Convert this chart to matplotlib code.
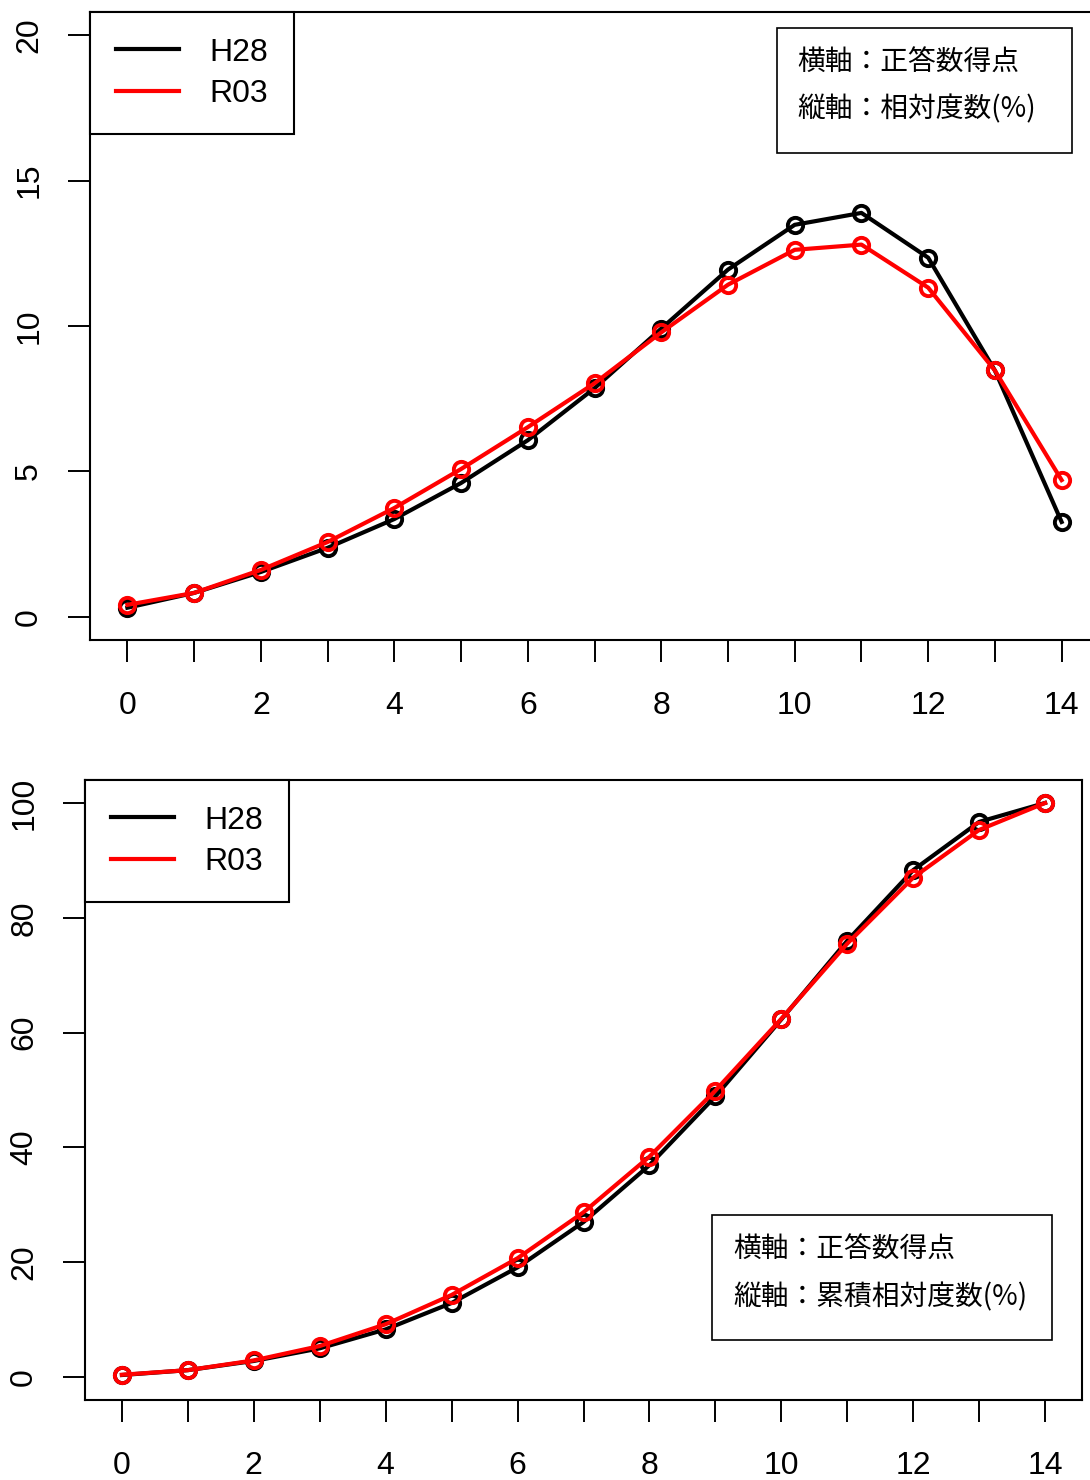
import numpy as np
import matplotlib
matplotlib.use("Agg")
import matplotlib.pyplot as plt
from matplotlib.patches import Rectangle

plt.rcParams['font.family'] = ['Liberation Sans', 'DejaVu Sans']

score = list(range(15))
# 相対度数(%)
h28_rel = [0.31, 0.82, 1.54, 2.37, 3.36, 4.60, 6.07, 7.86, 9.91, 11.94,
           13.48, 13.89, 12.35, 8.47, 3.26]
r03_rel = [0.41, 0.82, 1.61, 2.57, 3.74, 5.08, 6.52, 8.03, 9.78, 11.42,
           12.62, 12.80, 11.32, 8.47, 4.70]
# 累積相対度数(%)
h28_cum = [0.35, 1.2, 2.8, 5.0, 8.3, 12.9, 19.1, 27.0, 36.9, 48.9,
           62.3, 76.0, 88.3, 96.7, 100.0]
r03_cum = [0.4, 1.2, 2.9, 5.4, 9.2, 14.3, 20.7, 28.7, 38.4, 49.9,
           62.4, 75.5, 87.0, 95.3, 100.0]

series_names = ['H28', 'R03']
colors = ['black', 'red']
note_top = ['横軸：正答数得点', '縦軸：相対度数(%)']
note_bottom = ['横軸：正答数得点', '縦軸：累積相対度数(%)']

W, H = 1090, 1480
fig = plt.figure(figsize=(W / 100, H / 100), dpi=100)
# 上のグラフは右端が画像の外にはみ出している
ax1 = fig.add_axes([90 / W, 1 - 640 / H, 1009 / W, 628 / H])
ax2 = fig.add_axes([85 / W, 1 - 1400 / H, 997 / W, 620 / H])


def rstyle(ax, ymax, ystep):
    ax.set_xlim(-0.56, 14.56)
    pad = ymax * 0.04
    ax.set_ylim(-pad, ymax + pad)
    ax.set_xticks(range(15))
    ax.set_xticklabels([str(i) if i % 2 == 0 else '' for i in range(15)])
    ax.set_yticks(np.arange(0, ymax + 1, ystep))
    ax.tick_params(direction='out', length=16, width=1.4, labelsize=23)
    ax.tick_params(axis='x', pad=21)
    ax.tick_params(axis='y', pad=17)
    for lab in ax.get_yticklabels():
        lab.set_rotation(90)
        lab.set_va('center')
    for s in ax.spines.values():
        s.set_linewidth(1.5)


def draw(ax, ys, ymax, ystep):
    for y, c, n in zip(ys, colors, series_names):
        ax.plot(score, y, color=c, lw=3, marker='o', ms=11, mfc='none',
                mec=c, mew=2.8, label=n)
    rstyle(ax, ymax, ystep)
    leg = ax.legend(loc='upper left', borderaxespad=0, fancybox=False,
                    framealpha=1, edgecolor='black', fontsize=23,
                    handlelength=2.0, handletextpad=0.95, borderpad=0.8,
                    labelspacing=0.35)
    leg.get_frame().set_linewidth(1.5)
    for h in leg.get_lines():
        h.set_marker('')


def note(lines, x0, y0, x1, y1, tx, ty, dy):
    # 注記の枠（ピクセル位置で指定）
    fig.patches.append(Rectangle((x0 / W, 1 - y1 / H), (x1 - x0) / W,
                                 (y1 - y0) / H, transform=fig.transFigure,
                                 fc='white', ec='black', lw=1.2, zorder=5))
    for i, s in enumerate(lines):
        fig.text(tx / W, 1 - (ty + i * dy) / H, s, ha='left', va='center',
                 fontsize=20, family=['Noto Sans CJK JP', 'DejaVu Sans'],
                 zorder=6)


draw(ax1, [h28_rel, r03_rel], 20, 5)
draw(ax2, [h28_cum, r03_cum], 100, 20)

note(note_top, 777, 28, 1072, 153, 797, 62, 47)
note(note_bottom, 712, 1215, 1052, 1340, 733, 1249, 48)

fig.savefig('out.png', dpi=100)
